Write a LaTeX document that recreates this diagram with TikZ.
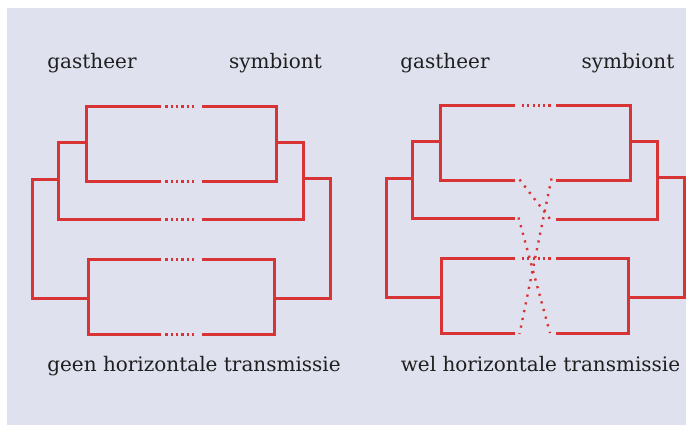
\documentclass[tikz,border=0pt]{standalone}
\usepackage{fontspec}
\setmainfont{DejaVu Serif}
\begin{document}
\begin{tikzpicture}[x=1pt,y=-1pt,
  branch/.style={draw=treered, line width=2.4pt, line join=miter},
  gapdots/.style={draw=treered, line width=2.4pt, line cap=butt, dash pattern=on 2.2pt off 3.1pt},
  crossdots/.style={draw=treered, line width=2.4pt, line cap=butt, dash pattern=on 2.2pt off 5.7pt},
  label/.style={anchor=base, inner sep=0pt, font=\fontsize{20}{24}\selectfont, text=black!88}]
\definecolor{treered}{RGB}{216,52,54}
\definecolor{panel}{RGB}{223,226,238}
\useasboundingbox (0,0) rectangle (686,425);
\fill[panel] (7,8) rectangle (686,425);

% ---------- left tree: no horizontal transmission ----------
% host side
\coordinate (hA1) at (161,106.5); \coordinate (hA2) at (161,181.5);
\coordinate (hB)  at (161,219.5);
\coordinate (hC1) at (161,259.5); \coordinate (hC2) at (161,334.5);
\draw[branch] (hA1) -- (86.5,106.5) -- (86.5,181.5) -- (hA2);
\draw[branch] (86.5,142.5) -- (58.5,142.5) -- (58.5,219.5) -- (hB);
\draw[branch] (58.5,179.5) -- (32.5,179.5) -- (32.5,298.5) -- (88.5,298.5);
\draw[branch] (hC1) -- (88.5,259.5) -- (88.5,334.5) -- (hC2);
% symbiont side
\coordinate (sA1) at (201.5,106.5); \coordinate (sA2) at (201.5,181.5);
\coordinate (sB)  at (201.5,219.5);
\coordinate (sC1) at (201.5,259.5); \coordinate (sC2) at (201.5,334.5);
\draw[branch] (sA1) -- (276.5,106.5) -- (276.5,181.5) -- (sA2);
\draw[branch] (276.5,142.5) -- (303.5,142.5) -- (303.5,219.5) -- (sB);
\draw[branch] (303.5,178.5) -- (330.5,178.5) -- (330.5,298.5) -- (274.5,298.5);
\draw[branch] (sC1) -- (274.5,259.5) -- (274.5,334.5) -- (sC2);
% host-symbiont links
\foreach \y in {106.5,181.5,219.5,259.5,334.5}
  \draw[gapdots] (165.4,\y) -- (194.1,\y);

% ---------- right tree: horizontal transmission ----------
\coordinate (HA1) at (515,105.5); \coordinate (HA2) at (515,180.5);
\coordinate (HB)  at (515,218.5);
\coordinate (HC1) at (515,258.5); \coordinate (HC2) at (515,333.5);
\draw[branch] (HA1) -- (440.5,105.5) -- (440.5,180.5) -- (HA2);
\draw[branch] (440.5,141.5) -- (412.5,141.5) -- (412.5,218.5) -- (HB);
\draw[branch] (412.5,178.5) -- (386.5,178.5) -- (386.5,297.5) -- (441.5,297.5);
\draw[branch] (HC1) -- (441.5,258.5) -- (441.5,333.5) -- (HC2);
\coordinate (SA1) at (555.5,105.5); \coordinate (SA2) at (555.5,180.5);
\coordinate (SB)  at (555.5,219.5);
\coordinate (SC1) at (555.5,258.5); \coordinate (SC2) at (555.5,333.5);
\draw[branch] (SA1) -- (630.5,105.5) -- (630.5,180.5) -- (SA2);
\draw[branch] (630.5,141.5) -- (657.5,141.5) -- (657.5,219.5) -- (SB);
\draw[branch] (657.5,177.5) -- (684.5,177.5) -- (684.5,297.5) -- (628.5,297.5);
\draw[branch] (SC1) -- (628.5,258.5) -- (628.5,333.5) -- (SC2);
% straight links
\draw[gapdots] (521.9,105.5) -- (550.6,105.5);
\draw[gapdots] (521.9,258.5) -- (550.6,258.5);
% crossing links
\draw[crossdots] (519.5,179.5) -- (550,219);
\draw[crossdots] (551.5,178.5) -- (519.5,334);
\draw[crossdots] (518.5,217.5) -- (550,333);

% ---------- labels ----------
\node[label] (g1) at (92,68.3) {gastheer};
\node[label] (s1) at (275.5,68.3) {symbiont};
\node[label] (g2) at (445,68.3) {gastheer};
\node[label] (s2) at (628,68.3) {symbiont};
\node[label] (c1) at (194,371.7) {geen horizontale transmissie};
\node[label] (c2) at (540.5,371.7) {wel horizontale transmissie};
\end{tikzpicture}
\end{document}
